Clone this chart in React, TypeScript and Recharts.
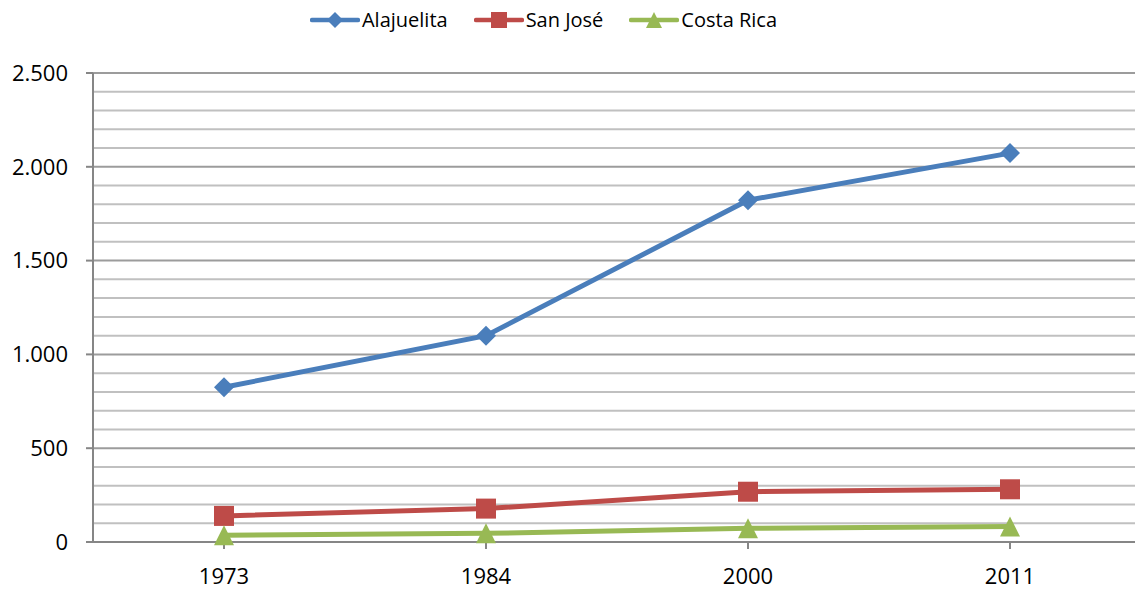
import { LineChart, Line, XAxis, YAxis, CartesianGrid, Legend, ReferenceLine } from 'recharts';

const years = ['1973', '1984', '2000', '2011'];
const alajuelita = [825, 1100, 1822, 2073];
const sanJose = [139, 178, 268, 281];
const costaRica = [36, 46, 73, 82];

const yTicks = [0, 500, 1000, 1500, 2000, 2500];
const minorGrid = [
  100, 200, 300, 400, 600, 700, 800, 900, 1100, 1200, 1300, 1400,
  1600, 1700, 1800, 1900, 2100, 2200, 2300, 2400,
];

const series = [
  { key: 'alajuelita', name: 'Alajuelita', color: '#4a7ebb', shape: 'diamond' },
  { key: 'sanJose', name: 'San José', color: '#be4b48', shape: 'square' },
  { key: 'costaRica', name: 'Costa Rica', color: '#98b954', shape: 'triangle' },
];

const data = years.map((year, i) => ({
  year,
  alajuelita: alajuelita[i],
  sanJose: sanJose[i],
  costaRica: costaRica[i],
}));

const FONT = '"Open Sans", "Noto Sans", sans-serif';

// thousands separator as a dot, like the original (2.500)
const formatThousands = (v: number) => String(v).replace(/\B(?=(\d{3})+(?!\d))/g, '.');

function Marker({ shape, cx, cy, color, size }: { shape: string; cx: number; cy: number; color: string; size: number }) {
  const h = size / 2;
  if (shape === 'diamond') {
    return <path d={`M${cx},${cy - h}L${cx + h},${cy}L${cx},${cy + h}L${cx - h},${cy}Z`} fill={color} />;
  }
  if (shape === 'square') {
    return <rect x={cx - h} y={cy - h} width={size} height={size} fill={color} />;
  }
  return <path d={`M${cx},${cy - h}L${cx + h},${cy + h}L${cx - h},${cy + h}Z`} fill={color} />;
}

function makeDot(shape: string, color: string) {
  return (props: any) => {
    const { cx, cy, index } = props;
    if (cx == null || cy == null) return <g key={index} />;
    return (
      <g key={`${shape}-${index}`}>
        <Marker shape={shape} cx={cx} cy={cy} color={color} size={20} />
      </g>
    );
  };
}

function LegendContent() {
  return (
    <div style={{ display: 'flex', justifyContent: 'center', alignItems: 'center', gap: 26, fontFamily: FONT, fontSize: 20, color: '#000' }}>
      {series.map((s) => (
        <div key={s.key} style={{ display: 'flex', alignItems: 'center' }}>
          <svg width={50} height={20} style={{ marginRight: 2 }}>
            <line x1={2} y1={10} x2={48} y2={10} stroke={s.color} strokeWidth={4.5} strokeLinecap="round" />
            <Marker shape={s.shape} cx={25} cy={10} color={s.color} size={16} />
          </svg>
          <span>{s.name}</span>
        </div>
      ))}
    </div>
  );
}

export default function App() {
  return (
    <div style={{ position: 'absolute', left: 0, top: 0, width: 1135, height: 593, overflow: 'hidden', background: '#fff', fontFamily: FONT }}>
      <LineChart width={1150} height={593} data={data} margin={{ top: 33, right: 9, bottom: 0, left: 0 }}>
        <CartesianGrid vertical={false} horizontalValues={yTicks} stroke="#9c9c9c" strokeWidth={2} />
        {minorGrid.map((v) => (
          <ReferenceLine key={v} y={v} stroke="#c0c0c0" strokeWidth={2} ifOverflow="hidden" />
        ))}
        <XAxis
          dataKey="year"
          padding={{ left: 131, right: 131 }}
          height={51}
          stroke="#868686"
          strokeWidth={2}
          tickSize={7}
          tickMargin={19}
          tick={{ fill: '#000', fontSize: 22, fontFamily: FONT }}
        />
        <YAxis
          domain={[0, 2500]}
          ticks={yTicks}
          width={93}
          stroke="#868686"
          strokeWidth={2}
          tickSize={7}
          tickMargin={18}
          tickFormatter={formatThousands}
          tick={{ fill: '#000', fontSize: 22, fontFamily: FONT }}
        />
        <Legend verticalAlign="top" height={40} wrapperStyle={{ top: 6, left: 0, width: 1087 }} content={<LegendContent />} />
        {series.map((s) => (
          <Line
            key={s.key}
            dataKey={s.key}
            name={s.name}
            type="linear"
            stroke={s.color}
            strokeWidth={5}
            dot={makeDot(s.shape, s.color)}
            activeDot={false}
            isAnimationActive={false}
          />
        ))}
      </LineChart>
    </div>
  );
}
